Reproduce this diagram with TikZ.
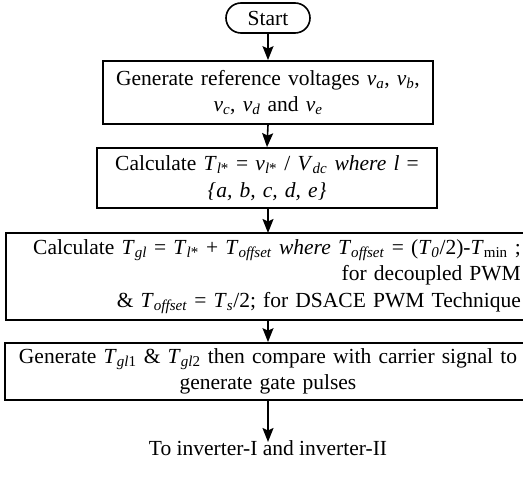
\documentclass[tikz,border=0pt]{standalone}
\usepackage{fontspec}
\setmainfont{Liberation Serif}
\usetikzlibrary{arrows.meta}
\newcommand{\sbs}[1]{\textsubscript{#1}}
\begin{document}
\begin{tikzpicture}[x=1pt,y=1pt,
  every node/.style={font=\fontsize{21.5}{26.5}\selectfont},
  boxstyle/.style={draw, line width=1.7pt, rectangle, inner sep=0pt, align=center},
  flowarrow/.style={line width=1.6pt, -{Stealth[length=14pt,width=11pt,inset=2.5pt]}}]
\useasboundingbox (0,0) rectangle (523,-492);
\clip (0,0) rectangle (523,-492);
\node[draw, line width=1.6pt, rounded corners=15pt, minimum width=84pt, minimum height=30pt, inner sep=0pt] (start) at (268,-18) {Start};
\node[boxstyle, minimum width=330pt, minimum height=63pt, text width=320pt] (b1) at (268,-92.5)
  {Generate reference voltages \textit{v}\sbs{\textit{a}}, \textit{v}\sbs{\textit{b}},\\ \textit{v}\sbs{\textit{c}}, \textit{v}\sbs{\textit{d}} and \textit{v}\sbs{\textit{e}}};
\node[boxstyle, minimum width=340pt, minimum height=60pt, text width=330pt] (b2) at (267,-178)
  {Calculate \textit{T}\sbs{\textit{l}*} = \textit{v}\sbs{\textit{l}*} / \textit{V}\sbs{\textit{dc}} \textit{where l} =\\ \textit{\{a, b, c, d, e\}}};
\node[boxstyle, minimum width=534pt, minimum height=87pt, text width=496pt, align=right, anchor=west] (b3) at (5,-276.5)
  {Calculate \textit{T}\sbs{\textit{gl}} = \textit{T}\sbs{\textit{l}*} + \textit{T}\sbs{\textit{offset}} \textit{where T}\sbs{\textit{offset}} = (\textit{T}\sbs{\textit{0}}/2)-\textit{T}\sbs{min} ;\\ for decoupled PWM\\ \& \textit{T}\sbs{\textit{offset}} = \textit{T}\sbs{\textit{s}}/2; for DSACE PWM Technique};
\node[boxstyle, minimum width=526pt, minimum height=57pt, text width=516pt] (b4) at (268,-371.5)
  {Generate \textit{T}\sbs{\textit{gl}1} \& \textit{T}\sbs{\textit{gl}2} then compare with carrier signal to\\ generate gate pulses};
\node[inner sep=0pt, anchor=north] (out) at (268,-440) {To inverter-I and inverter-II};
\coordinate (b3top) at (268,-233);
\coordinate (b3bot) at (268,-320);
\draw[flowarrow] (start.south) -- (b1.north);
\draw[flowarrow] (b1.south) -- (b2.north);
\draw[flowarrow] (b2.south -| b3top) -- (b3top);
\draw[flowarrow] (b3bot) -- (b4.north);
\draw[flowarrow] (b4.south) -- ([yshift=-2pt]out.north);
\end{tikzpicture}
\end{document}
